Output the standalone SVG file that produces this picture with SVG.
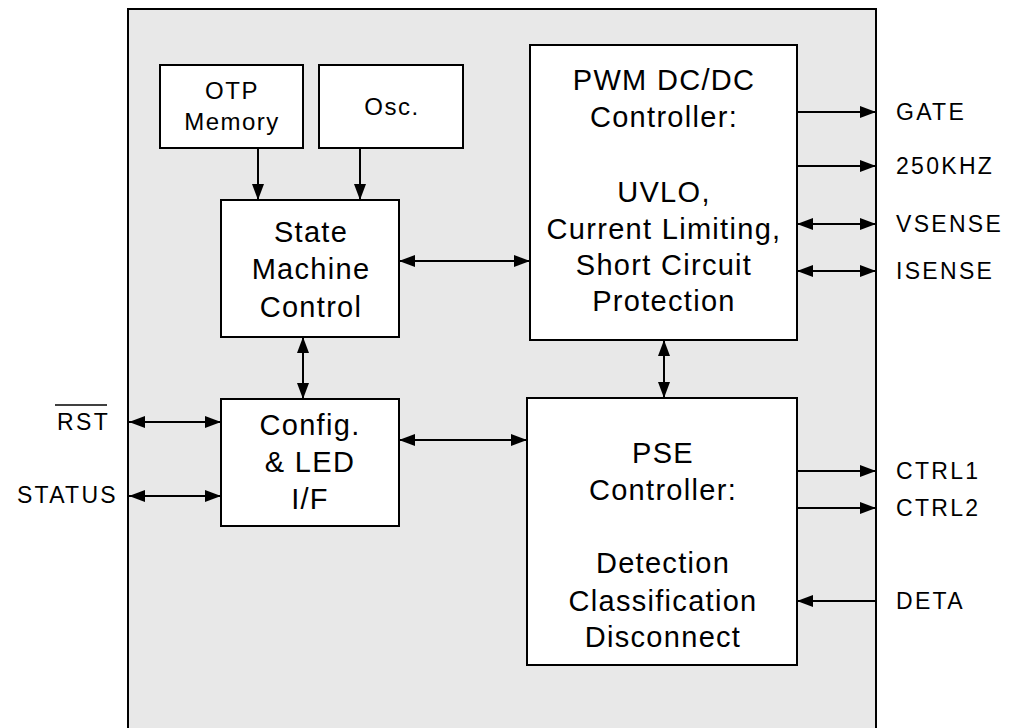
<svg xmlns="http://www.w3.org/2000/svg" width="1010" height="728" viewBox="0 0 1010 728">
<defs>
<marker id="ah" viewBox="0 0 16 12" refX="16" refY="6" markerWidth="16" markerHeight="12" markerUnits="userSpaceOnUse" orient="auto-start-reverse">
<path d="M0,0 L16,6 L0,12 Z" fill="#000"/>
</marker>
</defs>
<style>
.box{fill:#fff;stroke:#000;stroke-width:2}
.t{font-family:"Liberation Sans",Arial,sans-serif;font-size:29px;letter-spacing:1.3px;fill:#000;text-anchor:middle}
.s{font-family:"Liberation Sans",Arial,sans-serif;font-size:24px;letter-spacing:1.5px;fill:#000;text-anchor:middle}
.l{font-family:"Liberation Sans",Arial,sans-serif;font-size:23px;letter-spacing:2.3px;fill:#000}
.c{stroke:#000;stroke-width:2;fill:none}
</style>
<rect x="0" y="0" width="1010" height="728" fill="#fff"/>
<g id="chip"><rect x="128" y="9" width="748" height="730" fill="#e8e8e8" stroke="#000" stroke-width="2"/></g>
<g id="otp"><rect class="box" x="160" y="65" width="143" height="83"/><text class="s" x="232" y="99">OTP</text><text class="s" x="232" y="130">Memory</text></g>
<g id="osc"><rect class="box" x="319" y="65" width="144" height="83"/><text class="s" x="392" y="115">Osc.</text></g>
<g id="sm"><rect class="box" x="221" y="200" width="178" height="137"/><text class="t" x="311" y="242">State</text><text class="t" x="311" y="279">Machine</text><text class="t" x="311" y="317">Control</text></g>
<g id="cfg"><rect class="box" x="221" y="399" width="178" height="127"/><text class="t" x="310" y="435">Config.</text><text class="t" x="310" y="472">&amp; LED</text><text class="t" x="310" y="509">I/F</text></g>
<g id="pwm"><rect class="box" x="530" y="45" width="267" height="295"/>
<text class="t" x="664" y="90">PWM DC/DC</text><text class="t" x="664" y="127">Controller:</text><text class="t" x="664" y="202">UVLO,</text><text class="t" x="664" y="239">Current Limiting,</text><text class="t" x="664" y="275">Short Circuit</text><text class="t" x="664" y="311">Protection</text></g>
<g id="pse"><rect class="box" x="527" y="398" width="270" height="267"/>
<text class="t" x="663" y="463">PSE</text><text class="t" x="663" y="500">Controller:</text><text class="t" x="663" y="573">Detection</text><text class="t" x="663" y="611">Classification</text><text class="t" x="663" y="647">Disconnect</text></g>
<g id="labels">
<text class="l" x="110" y="430" text-anchor="end">RST</text>
<line x1="55" y1="405" x2="107" y2="405" stroke="#000" stroke-width="1.5"/>
<text class="l" x="118" y="503" text-anchor="end">STATUS</text>
<text class="l" x="896" y="120">GATE</text>
<text class="l" x="896" y="174">250KHZ</text>
<text class="l" x="896" y="232">VSENSE</text>
<text class="l" x="896" y="279">ISENSE</text>
<text class="l" x="896" y="479">CTRL1</text>
<text class="l" x="896" y="516">CTRL2</text>
<text class="l" x="896" y="609">DETA</text>
</g>
<g id="connectors">
<line class="c" x1="258" y1="148" x2="258" y2="200" marker-end="url(#ah)"/>
<line class="c" x1="360" y1="148" x2="360" y2="200" marker-end="url(#ah)"/>
<line class="c" x1="399" y1="261" x2="530" y2="261" marker-start="url(#ah)" marker-end="url(#ah)"/>
<line class="c" x1="303" y1="337" x2="303" y2="399" marker-start="url(#ah)" marker-end="url(#ah)"/>
<line class="c" x1="664" y1="340" x2="664" y2="398" marker-start="url(#ah)" marker-end="url(#ah)"/>
<line class="c" x1="399" y1="440" x2="527" y2="440" marker-start="url(#ah)" marker-end="url(#ah)"/>
<line class="c" x1="129" y1="422" x2="221" y2="422" marker-start="url(#ah)" marker-end="url(#ah)"/>
<line class="c" x1="129" y1="496" x2="221" y2="496" marker-start="url(#ah)" marker-end="url(#ah)"/>
<line class="c" x1="797" y1="112" x2="876" y2="112" marker-end="url(#ah)"/>
<line class="c" x1="797" y1="166" x2="876" y2="166" marker-end="url(#ah)"/>
<line class="c" x1="797" y1="224" x2="876" y2="224" marker-start="url(#ah)" marker-end="url(#ah)"/>
<line class="c" x1="797" y1="271" x2="876" y2="271" marker-start="url(#ah)" marker-end="url(#ah)"/>
<line class="c" x1="797" y1="471" x2="876" y2="471" marker-end="url(#ah)"/>
<line class="c" x1="797" y1="508" x2="876" y2="508" marker-end="url(#ah)"/>
<line class="c" x1="876" y1="601" x2="797" y2="601" marker-end="url(#ah)"/>
</g>
</svg>
